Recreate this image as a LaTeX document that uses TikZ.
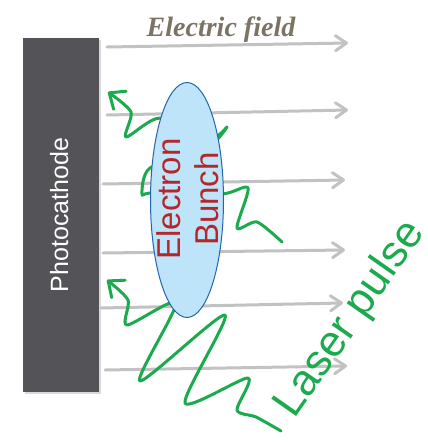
\documentclass[tikz,border=0pt]{standalone}
\usepackage{fontspec}
\setmainfont{Liberation Sans}
\newfontfamily\fieldfont{Liberation Serif}
\usetikzlibrary{arrows.meta,shadows}
\definecolor{cathodegray}{HTML}{535358}
\definecolor{fieldgray}{HTML}{C2C2C2}
\definecolor{lasergreen}{HTML}{1BAA4E}
\definecolor{bunchblue}{HTML}{BEE4FA}
\definecolor{bunchedge}{HTML}{2264B0}
\definecolor{bunchred}{HTML}{B3262A}
\definecolor{fieldtext}{HTML}{7B7464}

\begin{document}
\begin{tikzpicture}[x=1pt,y=-1pt,
    field/.style={line width=3pt, color=fieldgray, line cap=round,
        -{Straight Barb[length=11pt,width=15pt,round]}},
    beam/.style={line width=3pt, color=lasergreen, line cap=round, line join=round,
        -{Straight Barb[length=13pt,width=22pt,round]}}]
    \useasboundingbox (0,0) rectangle (428,442);
    % photocathode plate
    \fill[cathodegray, drop shadow={opacity=0.3, shadow xshift=1.5pt, shadow yshift=-2pt}]
        (23,38) rectangle (99,392);
    % field lines
    \foreach \xa/\ya/\xb/\yb in {107/47/348/43, 107/115/348/110, 103/184/345/180,
            103/253/345/250, 101/308/343/303, 105/370/347/366}
        \draw[field] (\xa,\ya) -- (\xb,\yb);
    % laser pulses
    \draw[beam] plot[smooth, tension=0.45] coordinates {(282,242) (257,222) (237,228)
        (248,188) (222,194) (152,193) (142,194) (150,168) (205,150) (227,127) (210,138)
        (160,118) (126,137) (131,112) (108,92)};
    \draw[beam] plot[smooth, tension=0.45] coordinates {(281,431) (256,417) (237,410)
        (248,378) (185,403) (225,315) (140,381) (176,303) (127,325) (128,300) (107,280)};
    % electron bunch
    \draw[line width=1pt, draw=bunchedge, fill=bunchblue] (187,200) ellipse [x radius=36.5, y radius=117.5];
    % labels
    \node[text=fieldtext, anchor=base] (fieldlbl) at (221,36)
        {\fontsize{28}{32}\selectfont\fieldfont\bfseries\itshape Electric field};
    \node[text=white, rotate=90, anchor=base] (cathodelbl) at (68,215)
        {\fontsize{25}{30}\selectfont Photocathode};
    \node[text=bunchred, rotate=90, align=center, font=\fontsize{33}{38}\selectfont]
        (bunchlbl) at (188,199) {Electron\\Bunch};
    \node[text=lasergreen, rotate=55, anchor=base] (laserlbl) at (360,326)
        {\fontsize{44}{50}\selectfont Laser pulse};
\end{tikzpicture}
\end{document}
